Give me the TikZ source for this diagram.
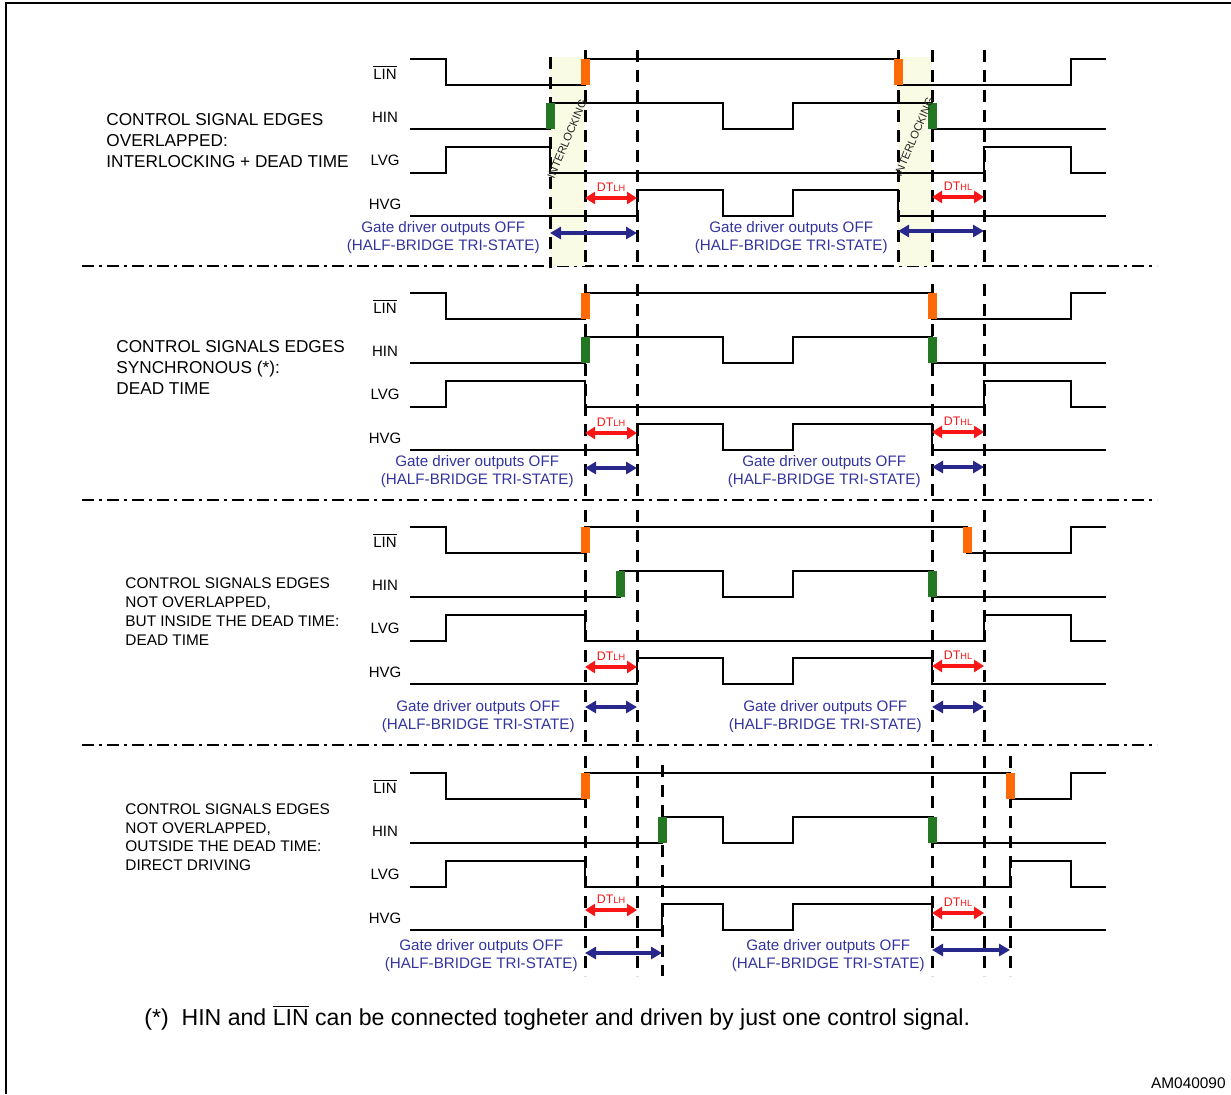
\documentclass[tikz,border=0pt]{standalone}
\usepackage{fontspec}
\setmainfont{Liberation Sans}
\usepackage{tikz}
\usetikzlibrary{positioning,arrows.meta}
\definecolor{tone}{RGB}{255,106,8}
\definecolor{leaf}{RGB}{36,120,36}
\definecolor{navy}{RGB}{40,40,140}
\definecolor{navytxt}{RGB}{52,52,160}
\definecolor{hot}{RGB}{250,22,22}
\definecolor{band}{RGB}{249,251,228}
\newcommand{\linbar}{\ensuremath{\overline{\mbox{LIN}}}}
\newcommand{\dtsub}[1]{{\fontsize{4.6}{5}\selectfont #1}}

\begin{document}
\begin{tikzpicture}[x=0.5pt,y=-0.5pt,
  sig/.style={line width=1.2pt},
  dl/.style={line width=1.5pt,dash pattern=on 6pt off 4pt},
  sep/.style={line width=1pt,dash pattern=on 6pt off 2.5pt on 1.5pt off 2.5pt},
  dt/.style={{Triangle[length=5pt,width=6pt]}-{Triangle[length=5pt,width=6pt]},hot,line width=1.8pt},
  off/.style={{Triangle[length=5.5pt,width=6pt]}-{Triangle[length=5.5pt,width=6pt]},navy,line width=1.6pt},
  dtl/.style={hot,font=\fontsize{6.2}{7}\selectfont,inner sep=0pt},
  lbl/.style={font=\fontsize{7.5}{9}\selectfont,inner sep=0pt},
  gtxt/.style={navytxt,align=center,font=\fontsize{7.6}{9}\selectfont,inner sep=0pt,anchor=east},
  desc/.style={align=left,anchor=west,inner sep=0pt},
  ilk/.style={font=\fontsize{5.6}{6}\selectfont,rotate=67,inner sep=0pt,black!85}]
  \useasboundingbox (0,0) rectangle (1231,1094);
  \draw[line width=1pt] (6,1094) -- (6,3) -- (1231,3);

  % separators
  \foreach \y in {266,500,745} \draw[sep] (82,\y) -- (1157,\y);

  % overlapped: interlocking + dead time
  \begin{scope}
    \fill[band] (550,57) rectangle (585,266);
    \fill[band] (898,57) rectangle (932,266);
    \draw[sig] (410,59) -| (446,85) -| (585,59) -| (898,85) -| (1071,59) -- (1106,59);
    \draw[sig] (410,129) -| (550,103) -| (723,129) -| (793,103) -| (932,129) -- (1106,129);
    \draw[sig] (410,173) -| (446,147) -| (550,173) -| (984,147) -| (1071,173) -- (1106,173);
    \draw[sig] (410,216) -| (637,190) -| (723,216) -| (793,190) -| (898,216) -- (1106,216);
    \draw[dl] (550,57) -- (550,268);
    \foreach \x in {585,637,898,932,984} \draw[dl] (\x,50) -- (\x,268);
    \fill[tone] (580.5,59) rectangle ++(9,26); \fill[tone] (893.5,59) rectangle ++(9,26);
    \fill[leaf] (545.5,103) rectangle ++(9,26); \fill[leaf] (927.5,103) rectangle ++(9,26);
    \node[ilk] (ik1l) at (567,139) {INTERLOCKING};
    \node[ilk] (ik1r) at (914,137) {INTERLOCKING};
    \coordinate (r1a) at (585,198); \coordinate (r1b) at (637,198);
    \coordinate (r1c) at (932,197); \coordinate (r1d) at (984,197);
    \draw[dt] (r1a) -- node[dtl,above=2.5pt] (lh1) {DT\dtsub{LH}} (r1b);
    \draw[dt] (r1c) -- node[dtl,above=2.5pt] (hl1) {DT\dtsub{HL}} (r1d);
    \coordinate (b1a) at (550,233); \coordinate (b1b) at (637,233);
    \coordinate (b1c) at (898,231); \coordinate (b1d) at (984,231);
    \draw[off] (b1a) -- (b1b); \draw[off] (b1c) -- (b1d);
    \node[gtxt] (g1l) at (540,237.5) {Gate driver outputs OFF\\(HALF-BRIDGE TRI-STATE)};
    \node[gtxt] (g1r) at (888,237.5) {Gate driver outputs OFF\\(HALF-BRIDGE TRI-STATE)};
    \node[lbl] (lin1) at (385,72) {\linbar}; \node[lbl] (hin1) at (385,117) {HIN};
    \node[lbl] (lvg1) at (385,160) {LVG}; \node[lbl] (hvg1) at (385,204) {HVG};
    \node[desc,font=\fontsize{8.6}{10.5}\selectfont] (desc1) at (106,141)
      {CONTROL SIGNAL EDGES\\OVERLAPPED:\\INTERLOCKING + DEAD TIME};
  \end{scope}

  % synchronous: dead time
  \begin{scope}[shift={(0,234)}]
    \draw[sig] (410,59) -| (446,85) -| (585,59) -| (932,85) -| (1071,59) -- (1106,59);
    \draw[sig] (410,129) -| (585,103) -| (723,129) -| (793,103) -| (932,129) -- (1106,129);
    \draw[sig] (410,173) -| (446,147) -| (585,173) -| (984,147) -| (1071,173) -- (1106,173);
    \draw[sig] (410,216) -| (637,190) -| (723,216) -| (793,190) -| (932,216) -- (1106,216);
    \foreach \x in {585,637,932,984} \draw[dl] (\x,50) -- (\x,266);
    \fill[tone] (580.5,59) rectangle ++(9,26); \fill[tone] (927.5,59) rectangle ++(9,26);
    \fill[leaf] (580.5,103) rectangle ++(9,26); \fill[leaf] (927.5,103) rectangle ++(9,26);
    \coordinate (r2a) at (585,199); \coordinate (r2b) at (637,199);
    \coordinate (r2c) at (932,198); \coordinate (r2d) at (984,198);
    \draw[dt] (r2a) -- node[dtl,above=2.5pt] (lh2) {DT\dtsub{LH}} (r2b);
    \draw[dt] (r2c) -- node[dtl,above=2.5pt] (hl2) {DT\dtsub{HL}} (r2d);
    \coordinate (b2a) at (585,234); \coordinate (b2b) at (637,234);
    \coordinate (b2c) at (932,233); \coordinate (b2d) at (984,233);
    \draw[off] (b2a) -- (b2b); \draw[off] (b2c) -- (b2d);
    \node[gtxt] (g2l) at (574,237.5) {Gate driver outputs OFF\\(HALF-BRIDGE TRI-STATE)};
    \node[gtxt] (g2r) at (921,237.5) {Gate driver outputs OFF\\(HALF-BRIDGE TRI-STATE)};
    \node[lbl] (lin2) at (385,72) {\linbar}; \node[lbl] (hin2) at (385,117) {HIN};
    \node[lbl] (lvg2) at (385,160) {LVG}; \node[lbl] (hvg2) at (385,204) {HVG};
  \end{scope}
  \node[desc,font=\fontsize{8.6}{10.3}\selectfont] (desc2) at (116,367.5)
    {CONTROL SIGNALS EDGES\\SYNCHRONOUS (*):\\DEAD TIME};

  % not overlapped, inside dead time
  \begin{scope}[shift={(0,468)}]
    \draw[sig] (410,59) -| (446,85) -| (585,59) -| (967,85) -| (1071,59) -- (1106,59);
    \draw[sig] (410,129) -| (620,103) -| (723,129) -| (793,103) -| (932,129) -- (1106,129);
    \draw[sig] (410,173) -| (446,147) -| (585,173) -| (984,147) -| (1071,173) -- (1106,173);
    \draw[sig] (410,216) -| (637,190) -| (723,216) -| (793,190) -| (932,216) -- (1106,216);
    \foreach \x in {585,637,932,984} \draw[dl] (\x,42) -- (\x,274);
    \fill[tone] (580.5,59) rectangle ++(9,26); \fill[tone] (963,59) rectangle ++(9,26);
    \fill[leaf] (615.5,103) rectangle ++(9,26); \fill[leaf] (927.5,103) rectangle ++(9,26);
    \coordinate (r3a) at (585,199); \coordinate (r3b) at (637,199);
    \coordinate (r3c) at (932,198); \coordinate (r3d) at (984,198);
    \draw[dt] (r3a) -- node[dtl,above=2.5pt] (lh3) {DT\dtsub{LH}} (r3b);
    \draw[dt] (r3c) -- node[dtl,above=2.5pt] (hl3) {DT\dtsub{HL}} (r3d);
    \coordinate (b3a) at (585,239); \coordinate (b3b) at (637,239);
    \coordinate (b3c) at (932,239); \coordinate (b3d) at (984,239);
    \draw[off] (b3a) -- (b3b); \draw[off] (b3c) -- (b3d);
    \node[gtxt] (g3l) at (575,249) {Gate driver outputs OFF\\(HALF-BRIDGE TRI-STATE)};
    \node[gtxt] (g3r) at (922,249) {Gate driver outputs OFF\\(HALF-BRIDGE TRI-STATE)};
    \node[lbl] (lin3) at (385,72) {\linbar}; \node[lbl] (hin3) at (385,117) {HIN};
    \node[lbl] (lvg3) at (385,160) {LVG}; \node[lbl] (hvg3) at (385,204) {HVG};
  \end{scope}
  \node[desc,font=\fontsize{7.7}{9.5}\selectfont] (desc3) at (125,611.5)
    {CONTROL SIGNALS EDGES\\NOT OVERLAPPED,\\BUT INSIDE THE DEAD TIME:\\DEAD TIME};

  % not overlapped, outside dead time
  \begin{scope}[shift={(0,714)}]
    \draw[sig] (410,59) -| (446,85) -| (585,59) -| (1010,85) -| (1071,59) -- (1106,59);
    \draw[sig] (410,129) -| (662,103) -| (723,129) -| (793,103) -| (932,129) -- (1106,129);
    \draw[sig] (410,173) -| (446,147) -| (585,173) -| (1010,147) -| (1071,173) -- (1106,173);
    \draw[sig] (410,216) -| (662,190) -| (723,216) -| (793,190) -| (932,216) -- (1106,216);
    \foreach \x in {585,637,932,984,1010} \draw[dl] (\x,42) -- (\x,262);
    \draw[dl] (662,51) -- (662,262);
    \fill[tone] (580.5,59) rectangle ++(9,26); \fill[tone] (1006,59) rectangle ++(9,26);
    \fill[leaf] (658,103) rectangle ++(9,26); \fill[leaf] (927.5,103) rectangle ++(9,26);
    \coordinate (r4a) at (585,196); \coordinate (r4b) at (637,196);
    \coordinate (r4c) at (932,199); \coordinate (r4d) at (984,199);
    \draw[dt] (r4a) -- node[dtl,above=2.5pt] (lh4) {DT\dtsub{LH}} (r4b);
    \draw[dt] (r4c) -- node[dtl,above=2.5pt] (hl4) {DT\dtsub{HL}} (r4d);
    \coordinate (b4a) at (585,239); \coordinate (b4b) at (662,239);
    \coordinate (b4c) at (932,236); \coordinate (b4d) at (1010,236);
    \draw[off] (b4a) -- (b4b); \draw[off] (b4c) -- (b4d);
    \node[gtxt] (g4l) at (578,242) {Gate driver outputs OFF\\(HALF-BRIDGE TRI-STATE)};
    \node[gtxt] (g4r) at (925,242) {Gate driver outputs OFF\\(HALF-BRIDGE TRI-STATE)};
    \node[lbl] (lin4) at (385,72) {\linbar}; \node[lbl] (hin4) at (385,117) {HIN};
    \node[lbl] (lvg4) at (385,160) {LVG}; \node[lbl] (hvg4) at (385,204) {HVG};
  \end{scope}
  \node[desc,font=\fontsize{7.7}{9.3}\selectfont] (desc4) at (125,837)
    {CONTROL SIGNALS EDGES\\NOT OVERLAPPED,\\OUTSIDE THE DEAD TIME:\\DIRECT DRIVING};

  \node[anchor=west,inner sep=0pt,font=\fontsize{11.55}{13}\selectfont] (note) at (144,1018)
    {(*)\ \ HIN and \linbar{} can be connected togheter and driven by just one control signal.};
  \node[anchor=east,inner sep=0pt,font=\fontsize{7.7}{9}\selectfont] (code) at (1226,1083) {AM040090};
\end{tikzpicture}
\end{document}
